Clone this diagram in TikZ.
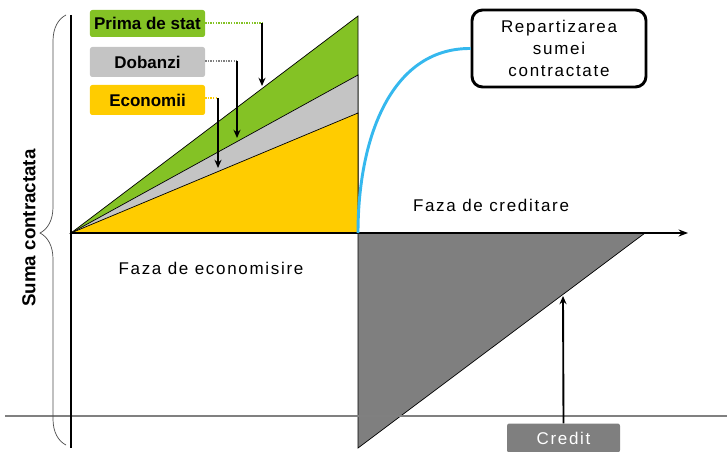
\documentclass[tikz,border=0pt]{standalone}
\usepackage{fontspec}
\setmainfont{Liberation Sans}
\newfontfamily\spacedfont[LetterSpace=10]{Liberation Sans}
\usetikzlibrary{arrows.meta,decorations.pathreplacing,calc}
\definecolor{cgreen}{HTML}{84C225}
\definecolor{cgray}{HTML}{C4C4C4}
\definecolor{cyellow}{HTML}{FFCC00}
\definecolor{cdark}{HTML}{7F7F7F}
\definecolor{cblue}{HTML}{35B8EE}
\begin{document}
\begin{tikzpicture}[x=0.03cm,y=-0.03cm,
  tri/.style={draw=black,line width=0.6pt},
  axisline/.style={draw=black,line width=2pt},
  lab/.style={rounded corners=2pt,minimum width=3.45cm,inner sep=0pt,
    font=\fontsize{14.5}{17}\selectfont\bfseries},
  hconn/.style={line width=1.2pt,densely dotted},
  arr/.style={draw=black,line width=1.6pt,-{Stealth[length=7pt,width=6pt]}},
  txt/.style={font=\fontsize{14.5}{17}\selectfont\spacedfont,inner sep=0pt}
]
\useasboundingbox (0,0) rectangle (727,452);
% key points
\coordinate (O) at (71,233);
\coordinate (G) at (358,16);
\coordinate (Gy) at (358,75);
\coordinate (Y) at (358,113);
\coordinate (B) at (358,233);
\coordinate (E) at (645,233);
\coordinate (D) at (358,448);
% savings triangles
\filldraw[tri,fill=cgreen] (O) -- (G) -- (B) -- cycle;
\filldraw[tri,fill=cgray] (O) -- (Gy) -- (B) -- cycle;
\filldraw[tri,fill=cyellow] (O) -- (Y) -- (B) -- cycle;
% credit triangle
\filldraw[tri,fill=cdark] (B) -- (E) -- (D) -- cycle;
% gray baseline
\draw[gray,line width=1pt] (5,416) -- (727,416);
% axes
\draw[axisline] (71,15) -- (71,448);
\draw[axisline,-{Stealth[length=8pt,width=6pt]}] (O) -- (688,233);
% brace
\draw[decorate,decoration={brace,amplitude=0.78cm,aspect=0.493},line width=0.6pt,black!70] (66,445) -- (66,15);
\node[rotate=90,font=\fontsize{16}{18}\selectfont\bfseries,inner sep=0pt] (suma) at (29,228) {Suma contractata};
% labels
\node[lab,fill=cgreen,minimum height=0.81cm] (prima) at (147.5,23.5) {Prima de stat};
\node[lab,fill=cgray,minimum height=0.9cm] (dob) at (147.5,62) {Dobanzi};
\node[lab,fill=cyellow,minimum height=0.9cm] (eco) at (147.5,100) {Economii};
\coordinate (pk) at (262,23);
\coordinate (pt) at (262,86);
\coordinate (dk) at (237,61);
\coordinate (dt) at (237,138);
\coordinate (ek) at (218,98);
\coordinate (et) at (218,168);
\draw[hconn,cgreen] (prima.east |- pk) -- (pk);
\draw[arr] (pk) -- (pt);
\draw[hconn,gray] (dob.east |- dk) -- (dk);
\draw[arr] (dk) -- (dt);
\draw[hconn,cyellow] (eco.east |- ek) -- (ek);
\draw[arr] (ek) -- (et);
% phase texts
\node[txt] (fecon) at (211,268) {Faza de economisire};
\node[txt] (fcred) at (491,205) {Faza de creditare};
% repartition box
\node[draw=black,line width=2.5pt,rounded corners=9pt,minimum width=5.22cm,minimum height=2.31cm,
  align=center,font=\fontsize{14.5}{18.5}\selectfont\spacedfont] (rep) at (559,48.5) {Repartizarea\\sumei\\contractate};
\draw[cblue,line width=2.5pt] (B) .. controls (358,140) and (390,48) .. (rep.west);
% credit
\node[fill=cdark,rounded corners=2pt,minimum width=3.39cm,minimum height=0.87cm,text=white,
  font=\fontsize{14.5}{17}\selectfont\spacedfont] (credit) at (563.5,438) {Credit};
\coordinate (ct) at (563,296);
\draw[arr] (credit.north) -- (ct);
\end{tikzpicture}
\end{document}
